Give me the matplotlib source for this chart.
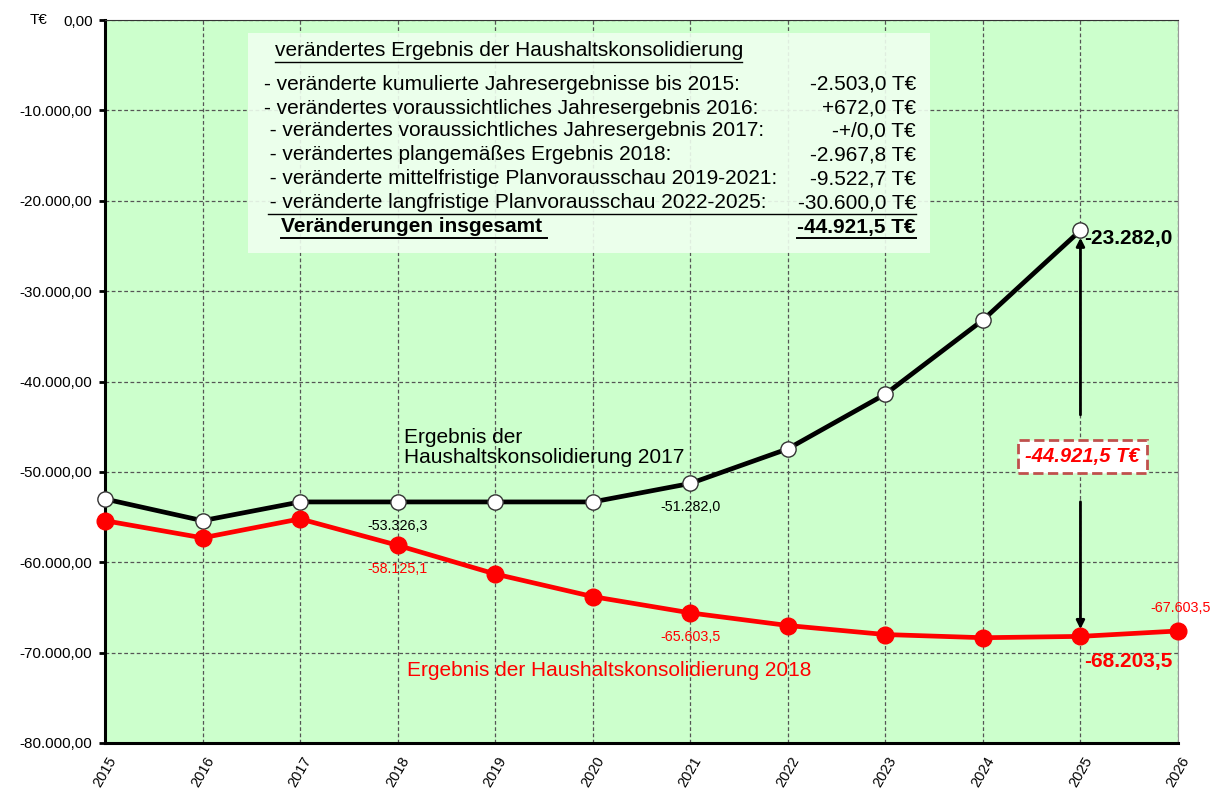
import matplotlib.pyplot as plt
from matplotlib.ticker import FuncFormatter, MultipleLocator

plt.rcParams['font.family'] = ['Liberation Sans', 'DejaVu Sans']

years = list(range(2015, 2027))
erg_2017 = [-53000, -55400, -53326.3, -53326.3, -53326.3, -53326.3, -51282.0,
            -47450, -41400, -33200, -23282.0]
erg_2018 = [-55400, -57300, -55200, -58125.1, -61300, -63800, -65603.5,
            -67000, -68000, -68350, -68203.5, -67603.5]

box_title = 'verändertes Ergebnis der Haushaltskonsolidierung'
box_rows = [
    ('- veränderte kumulierte Jahresergebnisse bis 2015:', '-2.503,0 T€'),
    ('- verändertes voraussichtliches Jahresergebnis 2016:', '+672,0 T€'),
    (' - verändertes voraussichtliches Jahresergebnis 2017:', '-+/0,0 T€'),
    (' - verändertes plangemäßes Ergebnis 2018:', '-2.967,8 T€'),
    (' - veränderte mittelfristige Planvorausschau 2019-2021:', '-9.522,7 T€'),
    (' - veränderte langfristige Planvorausschau 2022-2025:', '-30.600,0 T€'),
]
total_label = 'Veränderungen insgesamt'
total_value = '-44.921,5 T€'
diff_label = '-44.921,5 T€'

W, H = 1223, 798
fig = plt.figure(figsize=(W / 100, H / 100), dpi=100)
ax = fig.add_axes([105 / W, 1 - 743 / H, 1073 / W, 723 / H])
ax.set_facecolor('#CCFFCC')


def px(x, y):
    return x / W, 1 - y / H


ax.plot(years[:len(erg_2017)], erg_2017, color='black', lw=3.4, marker='o',
        ms=11, mfc='white', mec='#333333', mew=1, zorder=4, clip_on=False)
ax.plot(years, erg_2018, color='red', lw=3.4, marker='o', ms=12,
        mfc='red', mec='red', zorder=4, clip_on=False)

ax.set_xlim(2015, 2026)
ax.set_ylim(-80000, 0)
ax.set_xticks(years)
ax.set_xticklabels([str(y) for y in years], rotation=60, fontsize=10.5)
ax.yaxis.set_major_locator(MultipleLocator(10000))


def fmt(v, pos):
    s = '{:,.2f}'.format(v).replace(',', 'X').replace('.', ',').replace('X', '.')
    return s


ax.yaxis.set_major_formatter(FuncFormatter(fmt))
ax.tick_params(axis='y', labelsize=11, length=4, width=2, pad=5)
ax.tick_params(axis='x', length=0, pad=8)
ax.grid(True, ls=(0, (3, 2)), color='#555555', lw=0.9)
ax.spines['left'].set_linewidth(2.2)
ax.spines['bottom'].set_linewidth(2.2)
ax.spines['right'].set_color('#999999')
ax.spines['top'].set_color('#333333')
fig.text(*px(30, 20), 'T€', fontsize=11, va='center')

# info box
ax.add_patch(plt.Rectangle(px(248, 253), 682 / W, 220 / H, transform=fig.transFigure,
                           facecolor='#EFFFEF', edgecolor='none', alpha=0.9, zorder=5))
fig.text(*px(275, 50), box_title, fontsize=15, va='center', zorder=6)
fig.add_artist(plt.Line2D([275 / W, 742 / W], [1 - 62 / H] * 2, color='black', lw=1, zorder=6))
row_y = [84, 108, 131, 155, 179, 203]
for (lab, val), yy in zip(box_rows, row_y):
    fig.text(*px(264, yy), lab, fontsize=15, va='center', zorder=6)
    fig.text(*px(916, yy), val, fontsize=15, va='center', ha='right', zorder=6)
fig.add_artist(plt.Line2D([268 / W, 916 / W], [1 - 214 / H] * 2, color='black', lw=1, zorder=6))
fig.text(*px(281, 227), total_label, fontsize=15, weight='bold',
         va='center', zorder=6)
fig.text(*px(916, 227), total_value, fontsize=15, weight='bold',
         va='center', ha='right', zorder=6)
fig.add_artist(plt.Line2D([281 / W, 547 / W], [1 - 238 / H] * 2, color='black', lw=1.4, zorder=6))
fig.add_artist(plt.Line2D([797 / W, 916 / W], [1 - 238 / H] * 2, color='black', lw=1.4, zorder=6))

# series labels
ax.text(2018.07, -47300, 'Ergebnis der\nHaushaltskonsolidierung 2017', fontsize=15,
        linespacing=1.1, va='center')
ax.text(2018.1, -72000, 'Ergebnis der Haushaltskonsolidierung 2018', fontsize=15,
        color='red', va='center')

# value labels
ax.annotate('-53.326,3', (2018, erg_2017[3]), xytext=(0, -20), textcoords='offset points',
            ha='center', fontsize=10.3)
ax.annotate('-51.282,0', (2021, erg_2017[6]), xytext=(0, -20), textcoords='offset points',
            ha='center', fontsize=10.3)
ax.annotate('-58.125,1', (2018, erg_2018[3]), xytext=(0, -20), textcoords='offset points',
            ha='center', fontsize=10.3, color='red')
ax.annotate('-65.603,5', (2021, erg_2018[6]), xytext=(0, -20), textcoords='offset points',
            ha='center', fontsize=10.3, color='red')
ax.annotate('-67.603,5', (2026, erg_2018[11]), xytext=(2, 14), textcoords='offset points',
            ha='center', fontsize=10.3, color='red')
ax.annotate('-23.282,0', (2025, erg_2017[10]), xytext=(3, -10), textcoords='offset points',
            ha='left', fontsize=15, weight='bold')
ax.annotate('-68.203,5', (2025, erg_2018[10]), xytext=(3, -22), textcoords='offset points',
            ha='left', fontsize=15, weight='bold', color='red')

# difference arrows
ax.annotate('', xy=(2025, erg_2017[10] - 500), xytext=(2025, -44000),
            arrowprops=dict(arrowstyle='-|>', color='black', lw=2, mutation_scale=12), zorder=5)
ax.annotate('', xy=(2025, erg_2018[10] + 500), xytext=(2025, -53000),
            arrowprops=dict(arrowstyle='-|>', color='black', lw=2, mutation_scale=12), zorder=5)
ax.text(2025.02, -48300, diff_label, fontsize=14.5, weight='bold', style='italic',
        color='red', ha='center', va='center', zorder=6,
        bbox=dict(boxstyle='square,pad=0.35', fc='white', ec='#C0504D', ls='--', lw=2))

fig.savefig('out.png', dpi=100)
